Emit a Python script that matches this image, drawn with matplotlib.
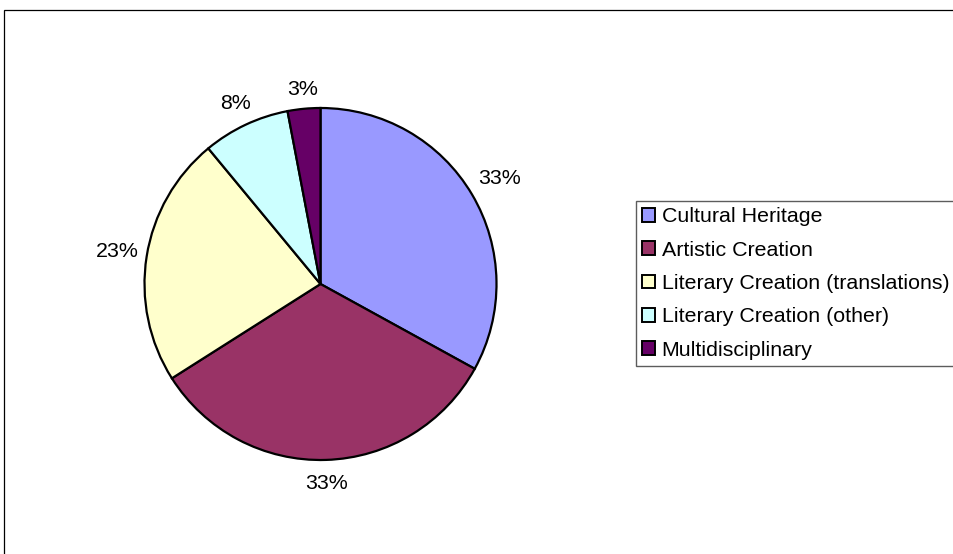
import numpy as np
import matplotlib.pyplot as plt
from matplotlib.patches import Patch, Rectangle

plt.rcParams['font.family'] = ['Liberation Sans', 'DejaVu Sans']

categories = ["Cultural Heritage", "Artistic Creation",
              "Literary Creation (translations)", "Literary Creation (other)",
              "Multidisciplinary"]
shares = [33, 33, 23, 8, 3]
colors = ["#9999FF", "#993366", "#FFFFCC", "#CCFFFF", "#660066"]

W, H = 954, 554
fs = 15.4
fig = plt.figure(figsize=(W / 100, H / 100), dpi=100)

# outer chart frame, right and bottom edges fall off the canvas
fig.patches.append(Rectangle((4 / W, -0.05), 1.1, 1 - 10 / H + 0.05,
                             transform=fig.transFigure, fill=False,
                             edgecolor="#000000", linewidth=0.9))

cx, cy, r = 320.5, 284, 176
ax = fig.add_axes([(cx - r) / W, 1 - (cy + r) / H, 2 * r / W, 2 * r / H])
wedges, _ = ax.pie(shares, colors=colors, startangle=90, counterclock=False,
                   wedgeprops=dict(edgecolor="black", linewidth=1.6))
ax.set_xlim(-1, 1)
ax.set_ylim(-1, 1)
ax.set_aspect("auto")
ax.axis("off")

# percentage labels: keep the text box a small gap outside the rim
fig.canvas.draw()
renderer = fig.canvas.get_renderer()
for w, v in zip(wedges, shares):
    ang = np.deg2rad((w.theta1 + w.theta2) / 2)
    t = ax.text(0, 0, f"{v}%", fontsize=fs, ha="center", va="center")
    bb = t.get_window_extent(renderer)
    half_w, half_h = bb.width / 2 + 2, bb.height / 2 + 3
    d = r + 5 + abs(np.cos(ang)) * half_w + abs(np.sin(ang)) * half_h
    if np.sin(ang) < 0:
        d += 5  # text below the pie sits a bit lower
    t.set_position((d / r * np.cos(ang), d / r * np.sin(ang)))

handles = [Patch(facecolor=c, edgecolor="black", linewidth=1.4) for c in colors]
leg = fig.legend(handles, categories, loc="upper left",
                 bbox_to_anchor=(636 / W, 1 - 201 / H), fontsize=fs,
                 frameon=True, fancybox=False, borderaxespad=0,
                 borderpad=0.3, handlelength=0.6, handleheight=0.6,
                 handletextpad=0.3, labelspacing=0.67)
leg.get_frame().set_edgecolor("#333333")
leg.get_frame().set_linewidth(1.0)

fig.savefig("out.png", dpi=100)
